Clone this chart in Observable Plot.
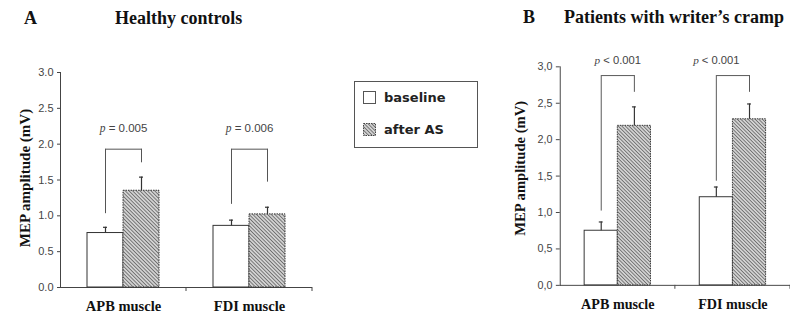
<!DOCTYPE html>
<html><head><meta charset="utf-8">
<script src="https://cdn.jsdelivr.net/npm/d3@7"></script>
<script src="https://cdn.jsdelivr.net/npm/@observablehq/plot@0.6"></script>
<style>
body{margin:0;background:#fff;}
#wrap{position:relative;width:790px;height:327px;overflow:hidden;background:#fff;}
.title{position:absolute;font:bold 18px "Liberation Serif",serif;line-height:18px;color:#111;white-space:nowrap;}
.panel{position:absolute;top:0;}
#legend{position:absolute;left:354px;top:81px;width:124px;height:67px;box-sizing:border-box;border:1px solid #555;background:#fff;font:bold 13px "DejaVu Sans",sans-serif;color:#222;}
#legend .row{position:absolute;left:8px;display:flex;align-items:center;}
#legend .row svg{margin-right:8px;}
</style></head><body>
<div id="wrap">
  <div class="title" style="left:24px;top:9px">A</div>
  <div class="title" style="left:115px;top:9px">Healthy controls</div>
  <div class="title" style="left:523px;top:8px">B</div>
  <div class="title" style="left:564px;top:8px">Patients with writer’s cramp</div>
  <div id="panelA" class="panel" style="left:0px"></div>
  <div id="panelB" class="panel" style="left:470px"></div>
  <div id="legend">
    <div class="row" style="top:8px"><svg width="13" height="13"><rect x="0.5" y="0.5" width="12" height="12" fill="#fff" stroke="#555"/></svg><span>baseline</span></div>
    <div class="row" style="top:40px"><svg width="13" height="13"><defs><pattern id="hatchL" patternUnits="userSpaceOnUse" width="2.6" height="2.6" patternTransform="rotate(-45)"><rect width="2.6" height="2.6" fill="#d2d2d2"/><line x1="0" y1="0" x2="0" y2="2.6" stroke="#4a4a4a" stroke-width="1.3"/></pattern></defs><rect x="0.5" y="0.5" width="12" height="12" fill="url(#hatchL)" stroke="#444" stroke-dasharray="1.5,1"/></svg><span>after AS</span></div>
  </div>
</div>
<script>
// ---- data ----
const muscles = ["APB muscle", "FDI muscle"];
const conditions = ["baseline", "after AS"];
const yLabel = "MEP amplitude (mV)";

// Panel A: healthy controls
const healthyBaseline = [0.76, 0.86];
const healthyAfter = [1.35, 1.02];
const healthyBaselineSEM = [0.08, 0.08];
const healthyAfterSEM = [0.19, 0.10];
const healthyBracketLowBaseline = [1.03, 1.16];
const healthyBracketLowAfter = [1.74, 1.47];
const healthyBracketTop = [1.93, 1.93];
const healthyP = ["p = 0.005", "p = 0.006"];
const healthyPY = [2.22, 2.22];
const healthyPAt = ["center", "center"];

// Panel B: patients with writer's cramp
const patientBaseline = [0.75, 1.21];
const patientAfter = [2.19, 2.28];
const patientBaselineSEM = [0.12, 0.14];
const patientAfterSEM = [0.26, 0.21];
const patientBracketLowBaseline = [1.02, 1.43];
const patientBracketLowAfter = [2.65, 2.65];
const patientBracketTop = [2.88, 2.88];
const patientP = ["p < 0.001", "p < 0.001"];
const patientPY = [3.09, 3.09];
const patientPAt = ["center", "baseline"];

function buildRows(base, after, baseSem, afterSem, lowB, lowA, top) {
  const rows = [];
  muscles.forEach((m, i) => {
    rows.push({muscle: m, condition: conditions[0], mean: base[i], sem: baseSem[i], low: lowB[i], top: top[i]});
    rows.push({muscle: m, condition: conditions[1], mean: after[i], sem: afterSem[i], low: lowA[i], top: top[i]});
  });
  return rows;
}
function buildBrackets(top, labels, py, at) {
  return muscles.map((m, i) => ({muscle: m, top: top[i], label: labels[i], py: py[i], at: at[i]}));
}

function makePanel(o) {
  const rows = o.rows, br = o.brackets, hatchId = o.hatchId;
  const serif = "Liberation Serif";
  const chart = Plot.plot({
    width: o.width, height: 327,
    marginLeft: o.marginLeft, marginRight: o.marginRight, marginTop: o.marginTop, marginBottom: o.marginBottom,
    style: {fontFamily: "Liberation Sans", fontSize: "11px", color: "#444", background: "transparent", overflow: "visible"},
    fx: {domain: muscles, padding: 0, axis: null},
    x: {domain: conditions, paddingInner: 0, paddingOuter: 0.72, axis: null},
    y: {domain: [0, 3], ticks: 6, tickFormat: o.tickFormat, tickSize: o.tickSize, tickPadding: o.tickPadding, line: true, label: null},
    marks: [
      Plot.ruleY([0], {stroke: "#444"}),
      Plot.barY(rows.filter(d => d.condition === conditions[0]), {fx: "muscle", x: "condition", y: "mean", fill: "white", stroke: "#333", strokeWidth: 1}),
      Plot.barY(rows.filter(d => d.condition === conditions[1]), {fx: "muscle", x: "condition", y: "mean", fill: `url(#${hatchId})`, stroke: "#333", strokeWidth: 1, strokeDasharray: "1.5,1"}),
      Plot.ruleX(rows, {fx: "muscle", x: "condition", y1: "mean", y2: d => d.mean + d.sem, stroke: "#333", strokeWidth: 1.2}),
      Plot.tickY(rows, {fx: "muscle", x: "condition", y: d => d.mean + d.sem, stroke: "#333", strokeWidth: 1.2, insetLeft: o.capInset, insetRight: o.capInset}),
      Plot.ruleX(rows, {fx: "muscle", x: "condition", y1: "low", y2: "top", stroke: "#555", strokeWidth: 1}),
      Plot.link(br, {fx: "muscle", x1: () => conditions[0], x2: () => conditions[1], y1: "top", y2: "top", stroke: "#555", strokeWidth: 1}),
      Plot.text(br.filter(d => d.at === "center"), {fx: "muscle", y: "py", text: "label", fontSize: o.pSize, fill: "#444"}),
      Plot.text(br.filter(d => d.at !== "center"), {fx: "muscle", x: () => conditions[0], y: "py", text: "label", fontSize: o.pSize, fill: "#444"}),
      Plot.text(muscles, {fx: d => d, text: d => d, frameAnchor: "bottom", dy: o.labelDy, fontFamily: serif, fontWeight: "bold", fontSize: 14.5, fill: "#111"}),
      Plot.text([yLabel], {fx: () => muscles[0], text: d => d, frameAnchor: "left", textAnchor: "middle", rotate: -90, dx: o.yLabelDx, dy: o.yLabelDy, fontFamily: serif, fontWeight: "bold", fontSize: 15, fill: "#111"})
    ]
  });
  const svg = d3.select(chart.tagName.toLowerCase() === "svg" ? chart : chart.querySelector("svg"));
  const defs = svg.insert("defs", ":first-child");
  const pat = defs.append("pattern").attr("id", hatchId).attr("patternUnits", "userSpaceOnUse")
    .attr("width", 2.6).attr("height", 2.6).attr("patternTransform", "rotate(-45)");
  pat.append("rect").attr("width", 2.6).attr("height", 2.6).attr("fill", "#d2d2d2");
  pat.append("line").attr("x1", 0).attr("y1", 0).attr("x2", 0).attr("y2", 2.6).attr("stroke", "#4a4a4a").attr("stroke-width", 1.3);
  // separator ticks on the category axis, from the library's scales
  const fx = chart.scale("fx"), y = chart.scale("y");
  const y0 = y.apply(0);
  muscles.forEach(m => {
    const xe = fx.apply(m) + fx.bandwidth;
    svg.append("line").attr("x1", xe).attr("x2", xe).attr("y1", y0).attr("y2", y0 + 4).attr("stroke", "#444");
  });
  // italic p in significance labels
  svg.selectAll("text").each(function() {
    const t = this.textContent;
    if (/^p [=<]/.test(t)) {
      const s = d3.select(this);
      s.text(null);
      s.append("tspan").attr("font-style", "italic").attr("font-family", "Liberation Serif").text("p");
      s.append("tspan").text(t.slice(1));
    }
  });
  return chart;
}

const rowsA = buildRows(healthyBaseline, healthyAfter, healthyBaselineSEM, healthyAfterSEM, healthyBracketLowBaseline, healthyBracketLowAfter, healthyBracketTop);
const rowsB = buildRows(patientBaseline, patientAfter, patientBaselineSEM, patientAfterSEM, patientBracketLowBaseline, patientBracketLowAfter, patientBracketTop);

document.getElementById("panelA").append(makePanel({
  rows: rowsA, brackets: buildBrackets(healthyBracketTop, healthyP, healthyPY, healthyPAt), hatchId: "hatchA",
  width: 320, marginLeft: 60, marginRight: 8, marginTop: 72, marginBottom: 40,
  tickFormat: d => d.toFixed(1), tickSize: 3, tickPadding: 4, capInset: 16, pSize: 11.5,
  labelDy: 23, yLabelDx: -35, yLabelDy: -2
}));
document.getElementById("panelB").append(makePanel({
  rows: rowsB, brackets: buildBrackets(patientBracketTop, patientP, patientPY, patientPAt), hatchId: "hatchB",
  width: 328, marginLeft: 92, marginRight: 0, marginTop: 68, marginBottom: 35,
  tickFormat: d => d.toFixed(1).replace(".", ","), tickSize: 4, tickPadding: 4, capInset: 15, pSize: 11.5,
  labelDy: 24, yLabelDx: -41, yLabelDy: -8
}));
</script>
</body></html>
